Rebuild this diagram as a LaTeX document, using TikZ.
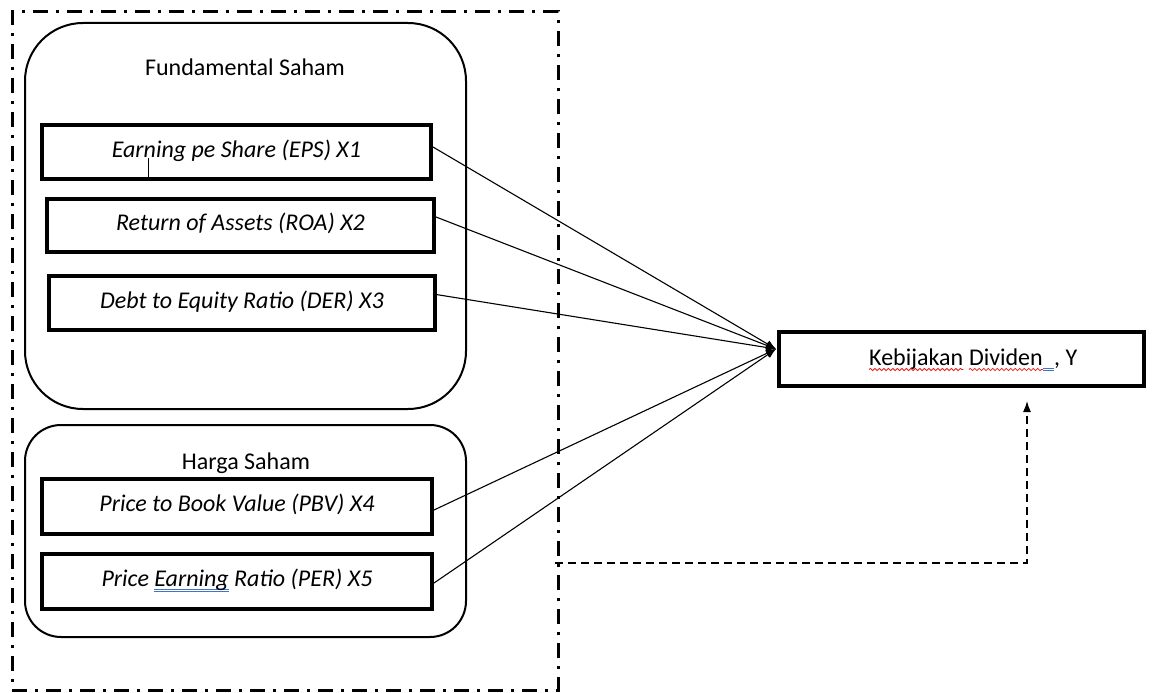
\documentclass[tikz,border=0pt]{standalone}
\usepackage{fontspec}
\setmainfont{Carlito}
\usetikzlibrary{arrows.meta,decorations.pathmorphing}
\definecolor{gramblue}{RGB}{68,114,196}
\definecolor{spellred}{RGB}{230,30,30}
\newcommand\diagfont{\fontsize{24}{28}\selectfont}
\newsavebox\ulbox
\newcommand\blueuu[1]{\sbox\ulbox{#1}%
  \rlap{\textcolor{gramblue}{\rule[-3pt]{\wd\ulbox}{0.7pt}}}%
  \rlap{\textcolor{gramblue}{\rule[-5.5pt]{\wd\ulbox}{0.7pt}}}%
  \usebox\ulbox}
\begin{document}
\begin{tikzpicture}[x=1pt,y=-1pt,
  frame/.style={draw, line width=3pt, inner sep=0pt,
    dash pattern=on 15pt off 8pt on 3pt off 8pt},
  group/.style={draw, line width=2pt, inner sep=0pt},
  lab/.style={font=\diagfont, anchor=base, inner sep=0pt},
  word/.style={font=\diagfont, anchor=base west, inner sep=0pt},
  varbox/.style={draw, line width=4pt, inner sep=0pt, font=\diagfont\itshape,
    text height=10pt, text depth=0pt},
  ybox/.style={draw, line width=4pt, inner sep=0pt},
  spell/.style={spellred, line width=0.8pt, decorate,
    decoration={snake, amplitude=1.1pt, segment length=4.5pt}},
  gram/.style={gramblue, line width=0.7pt},
  link/.style={line width=1.1pt, -{Latex[length=10pt,width=8pt]}},
  dashline/.style={line width=1.3pt, dash pattern=on 8pt off 5pt,
    -{Latex[length=11pt,width=8pt]}}
]
\useasboundingbox (0,0) rectangle (1170,693);

% outer dash-dot frame
\node[frame, minimum width=546pt, minimum height=678pt] (outer) at (285,351) {};

% groups
\node[group, rounded corners=58pt, minimum width=441pt, minimum height=386pt] (fund) at (245.5,216) {};
\node[group, rounded corners=36pt, minimum width=441pt, minimum height=212pt] (harga) at (245.5,531) {};
\node[lab] (fundlab) at (245,75) {Fundamental Saham};
\node[lab] (hargalab) at (246,469) {Harga Saham};

% variable boxes
\node[varbox, minimum width=389pt, minimum height=54pt] (eps) at (236.5,152) {Earning pe Share (EPS) X1};
\node[varbox, minimum width=387pt, minimum height=53pt] (roa) at (240.5,225.5) {Return of Assets (ROA) X2};
\node[varbox, minimum width=386pt, minimum height=54pt] (der) at (242,303) {Debt to Equity Ratio (DER) X3};
\node[varbox, minimum width=390pt, minimum height=55pt] (pbv) at (237,506.5) {Price to Book Value (PBV) X4};
\node[varbox, minimum width=390pt, minimum height=55pt] (per) at (237,581.5) {Price \blueuu{Earning} Ratio (PER) X5};

% cursor mark
\draw[line width=0.8pt] (148,158) -- (148,180);

% dependent variable
\node[ybox, minimum width=365pt, minimum height=54pt] (Y) at (961.5,359) {};
\node[word] (w1) at (869,365) {Kebijakan};
\node[word] (w2) at ([xshift=5.5pt]w1.base east) {Dividen};
\node[word] (w3) at ([xshift=11pt]w2.base east) {, Y};
\draw[spell] ([yshift=-4.5pt]w1.base west) -- ([yshift=-4.5pt]w1.base east);
\draw[spell] ([yshift=-4.5pt]w2.base west) -- ([yshift=-4.5pt]w2.base east);
\draw[gram] ([yshift=-3pt]w2.base east) -- ([yshift=-3pt]w3.base west);
\draw[gram] ([yshift=-5.5pt]w2.base east) -- ([yshift=-5.5pt]w3.base west);

% connectors
\coordinate (hub) at (776,349);
\draw[link] ([yshift=5pt]eps.east) -- (hub);
\draw[link] ([yshift=8.5pt]roa.east) -- (hub);
\draw[link] ([xshift=-4pt,yshift=9pt]der.east) -- (hub);
\draw[link] ([yshift=-3.5pt]pbv.east) -- (hub);
\draw[link] ([yshift=-1.5pt]per.east) -- (hub);

\coordinate (dstart) at (555,563);
\coordinate (dend) at (1027,401);
\draw[dashline] (dstart) -| (dend);
\end{tikzpicture}
\end{document}
